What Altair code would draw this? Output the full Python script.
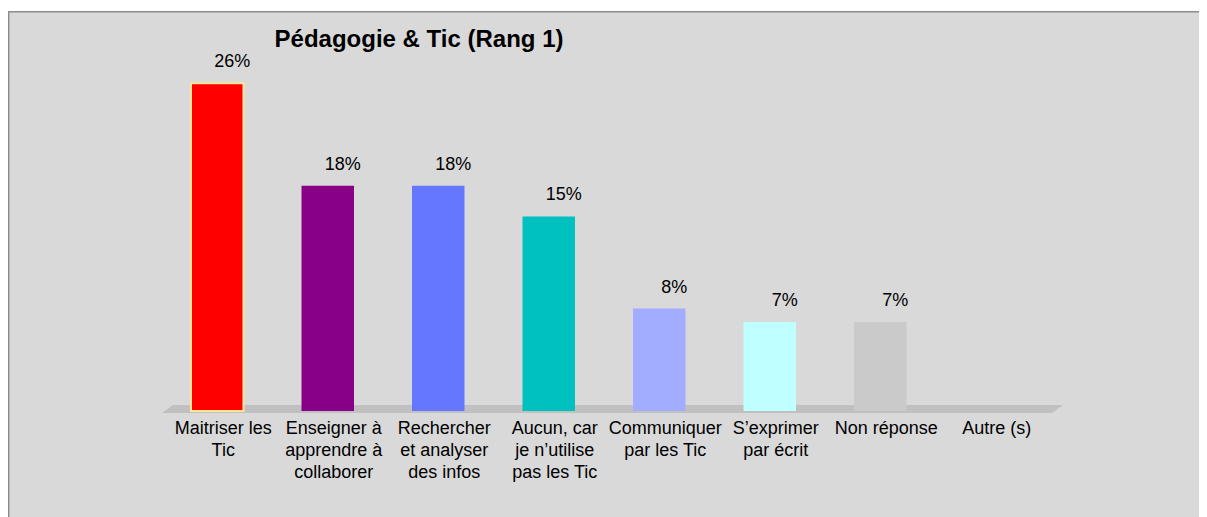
import altair as alt
import pandas as pd

# ---- data ----
categories = [
    "Maitriser les\nTic",
    "Enseigner à\napprendre à\ncollaborer",
    "Rechercher\net analyser\ndes infos",
    "Aucun, car\nje n’utilise\npas les Tic",
    "Communiquer\npar les Tic",
    "S’exprimer\npar écrit",
    "Non réponse",
    "Autre (s)",
]
values = [25.6, 17.6, 17.6, 15.2, 8.0, 6.95, 6.95, 0.0]
fill_colors = ["#FF0000", "#880088", "#6677FF", "#00C0C0", "#A3ADFF", "#C0FFFF", "#CACACA", "#CACACA"]
stroke_colors = ["#FFE699", "#880088", "#6677FF", "#00C0C0", "#A3ADFF", "#C0FFFF", "#CACACA", "#CACACA"]
stroke_widths = [2, 0, 0, 0, 0, 0, 0, 0]
title_text = "Pédagogie & Tic (Rang 1)"

FONT = "Liberation Sans"
W, H = 884, 384
PAD_L, PAD_T, PAD_R, PAD_B = 154, 19, 153, 106

df = pd.DataFrame({
    "cat": categories,
    "value": values,
    "fill": fill_colors,
    "stroke": stroke_colors,
    "sw": stroke_widths,
})

xenc = alt.X(
    "cat:N",
    sort=None,
    scale=alt.Scale(paddingInner=0.525, paddingOuter=0.2625),
    axis=alt.Axis(
        title=None, labelAngle=0, ticks=False, tickSize=0, domain=False,
        labelPadding=8, labelFontSize=18, labelFont=FONT, labelColor="black",
        labelLineHeight=22, labelExpr="split(datum.label, '\\n')",
        labelOffset=6, labelLimit=300, labelOverlap=False, grid=False,
    ),
)
yenc = alt.Y("value:Q", scale=alt.Scale(domain=[0, 30], nice=False, zero=True), axis=None)

bars = alt.Chart(df).mark_bar().encode(
    x=xenc,
    y=yenc,
    fill=alt.Fill("fill:N", scale=None),
    stroke=alt.Stroke("stroke:N", scale=None),
    strokeWidth=alt.StrokeWidth("sw:Q", scale=None),
)

pct = alt.Chart(df).transform_filter("datum.value > 0").transform_calculate(
    lbl="format(datum.value, '.0f') + '%'"
).mark_text(
    font=FONT, fontSize=18, color="black", align="center",
    baseline="alphabetic", dx=15, dy=-16,
).encode(x=xenc, y=yenc, text="lbl:N")

main = alt.layer(bars, pct)

# 3D floor under the bars (decoration, in pixel units)
floor_df = pd.DataFrame({"fy": [378, 386], "fx": [11, 0], "fx2": [901, 890]})
floor = alt.Chart(floor_df).mark_area(orient="horizontal", color="#C0C0C0").encode(
    y=alt.Y("fy:Q", scale=alt.Scale(domain=[0, H], reverse=True, nice=False, zero=False), axis=None),
    x=alt.X("fx:Q", scale=alt.Scale(domain=[0, W], nice=False, zero=False), axis=None),
    x2="fx2:Q",
)

one = pd.DataFrame({"k": [0]})
title = alt.Chart(pd.DataFrame({"t": [title_text]})).mark_text(
    font=FONT, fontSize=24, fontWeight="bold", color="black",
    align="center", baseline="alphabetic",
).encode(x=alt.value(257), y=alt.value(20), text="t:N")

top_strip = alt.Chart(one).mark_rect(color="white").encode(
    x=alt.value(-PAD_L), x2=alt.value(W + PAD_R), y=alt.value(-PAD_T), y2=alt.value(-16)
)
left_border = alt.Chart(one).mark_rule(color="#8C8C8C", strokeWidth=1.5).encode(
    x=alt.value(-PAD_L + 0.7), y=alt.value(-16), y2=alt.value(H + PAD_B)
)
top_border = alt.Chart(one).mark_rule(color="#8C8C8C", strokeWidth=1.5).encode(
    x=alt.value(-PAD_L), x2=alt.value(W + PAD_R), y=alt.value(-15.3)
)

chart = alt.layer(floor, main, title, top_strip, left_border, top_border).resolve_scale(
    x="independent", y="independent"
).properties(
    width=W, height=H,
    autosize=alt.AutoSizeParams(type="none"),
    padding={"left": PAD_L, "top": PAD_T, "right": PAD_R, "bottom": PAD_B},
    background="#D9D9D9",
).configure_view(strokeWidth=0)

chart.save("out.html", embed_options={"renderer": "svg", "actions": False})
